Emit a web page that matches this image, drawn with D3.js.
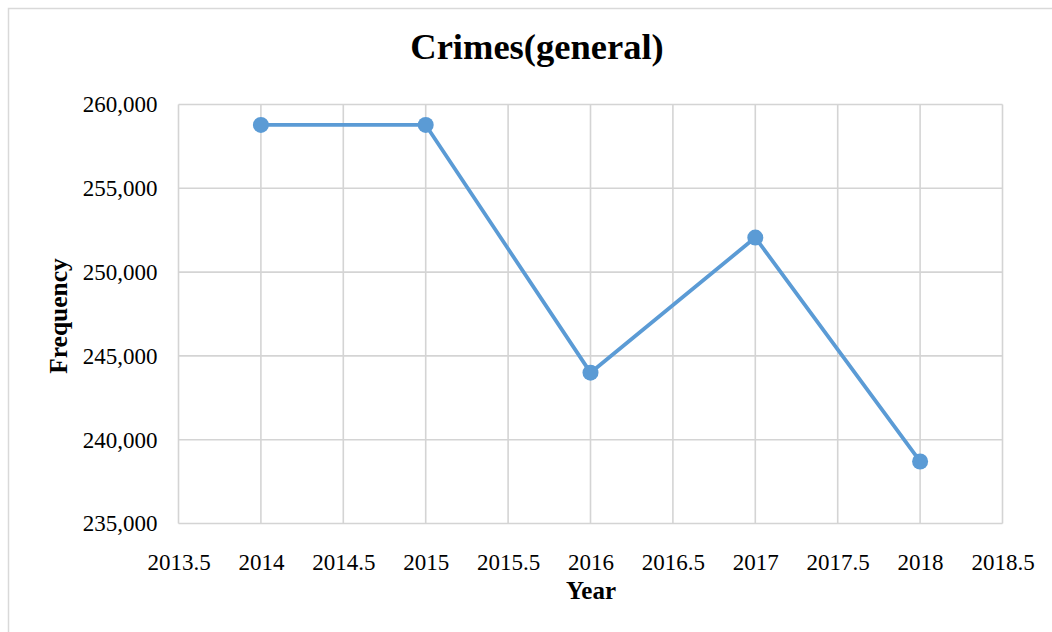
<!DOCTYPE html>
<html>
<head>
<meta charset="utf-8">
<script src="https://cdn.jsdelivr.net/npm/d3@7"></script>
<style>
  html, body { margin: 0; padding: 0; background: #fff; }
  svg { display: block; }
  text { font-family: "Liberation Serif", "Times New Roman", serif; fill: #000; }
</style>
</head>
<body>
<svg id="chart" width="1052" height="632"></svg>
<script>
// Yearly counts of general crimes
const years = [2014, 2015, 2016, 2017, 2018];
const frequency = [258780, 258780, 244000, 252060, 238700];
const xTicks = [2013.5, 2014, 2014.5, 2015, 2015.5, 2016, 2016.5, 2017, 2017.5, 2018, 2018.5];
const yTicks = [235000, 240000, 245000, 250000, 255000, 260000];

const svg = d3.select("#chart");
const plot = { left: 178.5, top: 104.5, right: 1002.5, bottom: 523.5 };

// Outer chart frame
svg.append("rect")
  .attr("x", 8.5).attr("y", 8.5)
  .attr("width", 1100).attr("height", 700)
  .attr("fill", "#fff").attr("stroke", "#d9d9d9").attr("stroke-width", 1.5);

const x = d3.scaleLinear().domain([2013.5, 2018.5]).range([plot.left, plot.right]);
const y = d3.scaleLinear().domain([235000, 260000]).range([plot.bottom, plot.top]);

// Gridlines
const grid = svg.append("g").attr("stroke", "#d4d4d4").attr("stroke-width", 1.6);
grid.selectAll("line.v").data(xTicks).join("line")
  .attr("x1", d => x(d)).attr("x2", d => x(d))
  .attr("y1", plot.top).attr("y2", plot.bottom);
grid.selectAll("line.h").data(yTicks).join("line")
  .attr("x1", plot.left).attr("x2", plot.right)
  .attr("y1", d => y(d)).attr("y2", d => y(d));

// Axes (labels only; lines come from the grid)
const fmt = d3.format(",");
const xAxis = svg.append("g")
  .attr("transform", `translate(0,${plot.bottom})`)
  .call(d3.axisBottom(x).tickValues(xTicks).tickFormat(d => String(d)).tickSize(0).tickPadding(30));
xAxis.attr("font-family", null);
xAxis.select(".domain").remove();
xAxis.selectAll("text").attr("font-size", 23).attr("font-family", "Liberation Serif").attr("fill", "#000");

const yAxis = svg.append("g")
  .attr("transform", `translate(${plot.left},0)`)
  .call(d3.axisLeft(y).tickValues(yTicks).tickFormat(fmt).tickSize(0).tickPadding(21));
yAxis.attr("font-family", null);
yAxis.select(".domain").remove();
yAxis.selectAll("text").attr("font-size", 23).attr("font-family", "Liberation Serif").attr("fill", "#000");

// Series line and markers
const line = d3.line().x((d, i) => x(years[i])).y(d => y(d));
svg.append("path")
  .datum(frequency)
  .attr("fill", "none")
  .attr("stroke", "#5b9bd5")
  .attr("stroke-width", 3.8)
  .attr("stroke-linejoin", "round")
  .attr("d", line);
svg.selectAll("circle.pt").data(frequency).join("circle")
  .attr("cx", (d, i) => x(years[i]))
  .attr("cy", d => y(d))
  .attr("r", 8)
  .attr("fill", "#5b9bd5");

// Titles
svg.append("text")
  .attr("x", 537).attr("y", 59)
  .attr("text-anchor", "middle")
  .attr("font-size", 36.5).attr("font-weight", "bold")
  .text("Crimes(general)");
svg.append("text")
  .attr("x", 591).attr("y", 599)
  .attr("text-anchor", "middle")
  .attr("font-size", 25).attr("font-weight", "bold")
  .text("Year");
svg.append("text")
  .attr("transform", `translate(67,${(plot.top + plot.bottom) / 2 + 2}) rotate(-90)`)
  .attr("text-anchor", "middle")
  .attr("font-size", 25.5).attr("font-weight", "bold")
  .text("Frequency");
</script>
</body>
</html>
